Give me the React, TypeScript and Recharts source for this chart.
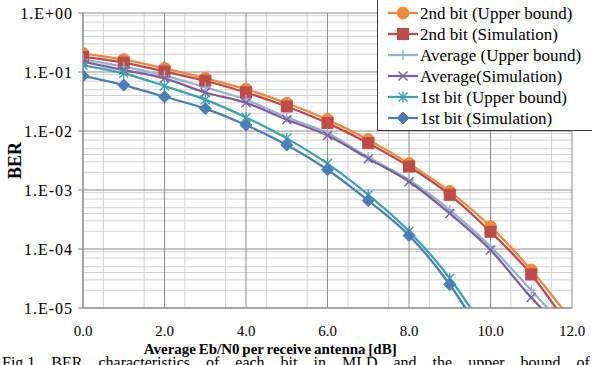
import React from 'react';
import { LineChart, Line, XAxis, YAxis, CartesianGrid, Legend, Label } from 'recharts';

// ---- data ----
const snr = [0, 1, 2, 3, 4, 5, 6, 7, 8, 9, 10, 11, 12];
const secondUb = [0.205, 0.162, 0.115, 0.078, 0.051, 0.0295, 0.0156, 0.0071, 0.0028, 0.00094, 0.00024, 4.4e-5, 6e-6];
const secondSim = [0.18, 0.144, 0.102, 0.071, 0.045, 0.026, 0.0136, 0.0062, 0.0025, 0.00083, 0.000196, 3.7e-5, 4e-6];
const avgUb = [0.164, 0.123, 0.087, 0.055, 0.034, 0.017, 0.0092, 0.0036, 0.00148, 0.00046, 0.00011, 2.0e-5, 3.5e-6];
const avgSim = [0.15, 0.108, 0.078, 0.045, 0.030, 0.0155, 0.0084, 0.0034, 0.00138, 0.0004, 9.6e-5, 1.5e-5, 3e-6];
const firstUb = [0.13, 0.095, 0.058, 0.034, 0.017, 0.0075, 0.0028, 0.00083, 0.0002, 3.2e-5, 3e-6, null, null];
const firstSim = [0.086, 0.06, 0.038, 0.024, 0.0126, 0.0058, 0.0022, 0.00066, 0.00017, 2.5e-5, 2e-6, null, null];

const xTicks = [0, 2, 4, 6, 8, 10, 12];
const yTicks = [1, 0.1, 0.01, 0.001, 0.0001, 0.00001];
const yTickLabels = ['1.E+00', '1.E-01', '1.E-02', '1.E-03', '1.E-04', '1.E-05'];
const xMinorGrid = [0.5, 1, 1.5, 2.5, 3, 3.5, 4.5, 5, 5.5, 6.5, 7, 7.5, 8.5, 9, 9.5, 10.5, 11, 11.5];
const decades = [1e-5, 1e-4, 1e-3, 1e-2, 1e-1];
const mantissas = [2, 3, 4, 5, 6, 7, 8, 9];
const yMinorGrid = decades.flatMap((d) => mantissas.map((m) => m * d));

const xLabel = 'Average Eb/N0 per receive antenna [dB]';
const yLabel = 'BER';
const caption = 'Fig.1  BER characteristics of each bit in MLD and the upper bound of';

const SERIES = [
  { key: 'secondUb', name: '2nd bit (Upper bound)', color: '#EF8A3D', shape: 'circle' },
  { key: 'secondSim', name: '2nd bit (Simulation)', color: '#BE4B48', shape: 'square' },
  { key: 'avgUb', name: 'Average (Upper bound)', color: '#94B0D6', shape: 'plus' },
  { key: 'avgSim', name: 'Average(Simulation)', color: '#7D5FA0', shape: 'x' },
  { key: 'firstUb', name: '1st bit (Upper bound)', color: '#3CA3B0', shape: 'star' },
  { key: 'firstSim', name: '1st bit (Simulation)', color: '#4A7EBB', shape: 'diamond' },
];

const data = snr.map((x, i) => ({
  snr: x,
  secondUb: secondUb[i],
  secondSim: secondSim[i],
  avgUb: avgUb[i],
  avgSim: avgSim[i],
  firstUb: firstUb[i],
  firstSim: firstSim[i],
}));

const FONT = '"Liberation Serif", "Times New Roman", serif';

function Marker({ shape, cx, cy, color }: { shape: string; cx: number; cy: number; color: string }) {
  switch (shape) {
    case 'circle':
      return <circle cx={cx} cy={cy} r={6} fill={color} stroke={color} />;
    case 'square':
      return <rect x={cx - 5.5} y={cy - 5.5} width={11} height={11} fill={color} stroke={color} />;
    case 'plus':
      return (
        <g stroke={color} strokeWidth={1.4}>
          <line x1={cx - 5} y1={cy} x2={cx + 5} y2={cy} />
          <line x1={cx} y1={cy - 5} x2={cx} y2={cy + 5} />
        </g>
      );
    case 'x':
      return (
        <g stroke={color} strokeWidth={1.4}>
          <line x1={cx - 4.5} y1={cy - 4.5} x2={cx + 4.5} y2={cy + 4.5} />
          <line x1={cx - 4.5} y1={cy + 4.5} x2={cx + 4.5} y2={cy - 4.5} />
        </g>
      );
    case 'star':
      return (
        <g stroke={color} strokeWidth={1.4}>
          <line x1={cx - 4.5} y1={cy - 4.5} x2={cx + 4.5} y2={cy + 4.5} />
          <line x1={cx - 4.5} y1={cy + 4.5} x2={cx + 4.5} y2={cy - 4.5} />
          <line x1={cx} y1={cy - 5.5} x2={cx} y2={cy + 5.5} />
        </g>
      );
    case 'diamond':
    default:
      return (
        <polygon
          points={`${cx},${cy - 6} ${cx + 6},${cy} ${cx},${cy + 6} ${cx - 6},${cy}`}
          fill={color}
          stroke={color}
        />
      );
  }
}

const makeDot = (shape: string, color: string) => (props: any) => {
  const { cx, cy, index } = props;
  if (cx == null || cy == null || props.value == null) return <g key={`d-${index}`} />;
  return (
    <g key={`d-${index}`}>
      <Marker shape={shape} cx={cx} cy={cy} color={color} />
    </g>
  );
};

const renderLegend = (props: any) => {
  const payload = props.payload || [];
  const keys = new Set(payload.map((p: any) => p.dataKey));
  const items = SERIES.filter((s) => keys.size === 0 || keys.has(s.key));
  return (
    <svg width={215} height={132} style={{ display: 'block', overflow: 'visible' }}>
      <rect x={0.5} y={-3} width={240} height={133.5} fill="#ffffff" stroke="#3f3f3f" strokeWidth={1} />
      {items.map((s, i) => {
        const cy = 13 + i * 21;
        return (
          <g key={s.key}>
            <line x1={11} y1={cy} x2={41} y2={cy} stroke={s.color} strokeWidth={2.25} />
            <Marker shape={s.shape} cx={26} cy={cy} color={s.color} />
            <text x={43} y={cy + 5.5} fontSize={17} fontFamily={FONT} fill="#000">
              {s.name}
            </text>
          </g>
        );
      })}
    </svg>
  );
};

export default function App() {
  return (
    <div style={{ position: 'absolute', left: 0, top: 0, width: 592, height: 365, background: '#fff' }}>
      <LineChart
        width={592}
        height={365}
        data={data}
        margin={{ top: 13, right: 20, left: 0, bottom: 27 }}
        style={{ fontFamily: FONT }}
      >
        <CartesianGrid
          stroke="#d2d2d2"
          strokeWidth={1}
          verticalValues={xMinorGrid}
          horizontalValues={yMinorGrid}
        />
        <CartesianGrid
          stroke="#8e8e8e"
          strokeWidth={1}
          verticalValues={xTicks}
          horizontalValues={yTicks}
        />
        <XAxis
          dataKey="snr"
          type="number"
          domain={[0, 12]}
          ticks={xTicks}
          allowDataOverflow
          tickFormatter={(v: number) => v.toFixed(1)}
          tickSize={0}
          tickMargin={17}
          height={30}
          axisLine={{ stroke: '#868686' }}
          tickLine={false}
          tick={{ fontSize: 15, fill: '#000', fontFamily: FONT }}
        >
          <Label
            content={(p: any) => {
              const vb = p.viewBox || { x: 83, y: 308, width: 489, height: 30 };
              return (
                <text
                  x={vb.x + vb.width * 0.383}
                  y={vb.y + 46}
                  textAnchor="middle"
                  fontSize={15}
                  fontWeight="bold"
                  fontFamily={FONT}
                  fill="#000"
                  wordSpacing={-1}
                >
                  {xLabel}
                </text>
              );
            }}
          />
        </XAxis>
        <YAxis
          scale="log"
          type="number"
          domain={[1e-5, 1]}
          ticks={yTicks}
          allowDataOverflow
          tickFormatter={(v: number) => yTickLabels[yTicks.findIndex((t) => Math.abs(Math.log10(t) - Math.log10(v)) < 1e-6)] || ''}
          width={83}
          tickSize={5}
          tickMargin={5}
          axisLine={{ stroke: '#868686' }}
          tickLine={{ stroke: '#868686' }}
          tick={{ fontSize: 16, fill: '#000', fontFamily: FONT, letterSpacing: 1 }}
        >
          <Label
            content={(p: any) => {
              const vb = p.viewBox || { x: 0, y: 13, width: 83, height: 295 };
              const cx = 21;
              const cy = vb.y + vb.height / 2;
              return (
                <text
                  x={cx}
                  y={cy}
                  transform={`rotate(-90 ${cx} ${cy})`}
                  textAnchor="middle"
                  fontSize={18}
                  fontWeight="bold"
                  fontFamily={FONT}
                  fill="#000"
                >
                  {yLabel}
                </text>
              );
            }}
          />
        </YAxis>
        {SERIES.map((s) => (
          <Line
            key={s.key}
            dataKey={s.key}
            name={s.name}
            type="monotone"
            stroke={s.color}
            strokeWidth={2.25}
            dot={makeDot(s.shape, s.color)}
            activeDot={false}
            isAnimationActive={false}
            connectNulls={false}
          />
        ))}
        <Legend
          layout="vertical"
          align="center"
          verticalAlign="middle"
          content={renderLegend}
          wrapperStyle={{ left: 377, top: 0, width: 215, height: 132, lineHeight: 0 }}
        />
        <text x={2} y={368} fontSize={16} fontFamily={FONT} fill="#000" wordSpacing={12}>
          {caption}
        </text>
      </LineChart>
    </div>
  );
}
